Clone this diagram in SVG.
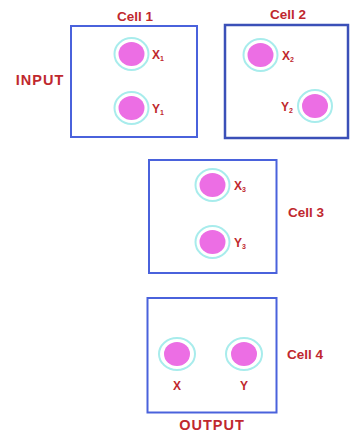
<svg xmlns="http://www.w3.org/2000/svg" width="350" height="435" viewBox="0 0 350 435">
<style>
.box{fill:#fff;stroke:#4a62dc;stroke-width:2}
.box2{fill:#fff;stroke:#3b50b8;stroke-width:2.5}
.ring{fill:#fff;stroke:#a8ecec;stroke-width:2}
.core{fill:#ec6ee4}
.t{font-family:"Liberation Sans",Arial,sans-serif;font-weight:bold;fill:#c0282e;font-size:13.5px}
.big{font-size:14.5px;letter-spacing:1px}
.s{font-family:"Liberation Sans",Arial,sans-serif;font-weight:bold;fill:#c0282e;font-size:12px}
.sub{font-size:7px}
</style>
<rect width="350" height="435" fill="#fff"/>
<text class="t big" x="40" y="85" text-anchor="middle">INPUT</text>
<g id="cell1">
<rect class="box" x="71" y="26" width="126" height="111"/>
<text class="t" x="135" y="21" text-anchor="middle">Cell 1</text>
<g id="x1"><ellipse class="ring" cx="131.5" cy="54" rx="17" ry="16"/><ellipse class="core" cx="131.5" cy="54" rx="13" ry="12"/><text class="s" x="152" y="59">X<tspan class="sub" dy="2">1</tspan></text></g>
<g id="y1"><ellipse class="ring" cx="131.5" cy="108" rx="17" ry="16"/><ellipse class="core" cx="131.5" cy="108" rx="13" ry="12"/><text class="s" x="152" y="113">Y<tspan class="sub" dy="2">1</tspan></text></g>
</g>
<g id="cell2">
<rect class="box2" x="225" y="25" width="123" height="113"/>
<text class="t" x="288" y="19" text-anchor="middle">Cell 2</text>
<g id="x2"><ellipse class="ring" cx="260.5" cy="55" rx="17" ry="16"/><ellipse class="core" cx="260.5" cy="55" rx="13" ry="12"/><text class="s" x="282" y="60">X<tspan class="sub" dy="2">2</tspan></text></g>
<g id="y2"><ellipse class="ring" cx="315" cy="106" rx="17" ry="16"/><ellipse class="core" cx="315" cy="106" rx="13" ry="12"/><text class="s" x="281" y="111">Y<tspan class="sub" dy="2">2</tspan></text></g>
</g>
<g id="cell3">
<rect class="box" x="149" y="160" width="127.5" height="113"/>
<text class="t" x="288" y="217">Cell 3</text>
<g id="x3"><ellipse class="ring" cx="212.5" cy="185" rx="17" ry="16"/><ellipse class="core" cx="212.5" cy="185" rx="13" ry="12"/><text class="s" x="234" y="190">X<tspan class="sub" dy="2">3</tspan></text></g>
<g id="y3"><ellipse class="ring" cx="212.5" cy="242" rx="17" ry="16"/><ellipse class="core" cx="212.5" cy="242" rx="13" ry="12"/><text class="s" x="234" y="247">Y<tspan class="sub" dy="2">3</tspan></text></g>
</g>
<g id="cell4">
<rect class="box" x="147.5" y="298" width="129" height="114.5"/>
<text class="t" x="287" y="359">Cell 4</text>
<g id="x"><ellipse class="ring" cx="177" cy="354" rx="18" ry="16"/><ellipse class="core" cx="177" cy="354" rx="13" ry="12"/><text class="s" x="177" y="390" text-anchor="middle" font-size="13.5">X</text></g>
<g id="y"><ellipse class="ring" cx="244" cy="354" rx="18" ry="16"/><ellipse class="core" cx="244" cy="354" rx="13" ry="12"/><text class="s" x="244" y="390" text-anchor="middle" font-size="13.5">Y</text></g>
<text class="t big" x="212" y="430" text-anchor="middle">OUTPUT</text>
</g>
<g id="connectors"/>
</svg>
